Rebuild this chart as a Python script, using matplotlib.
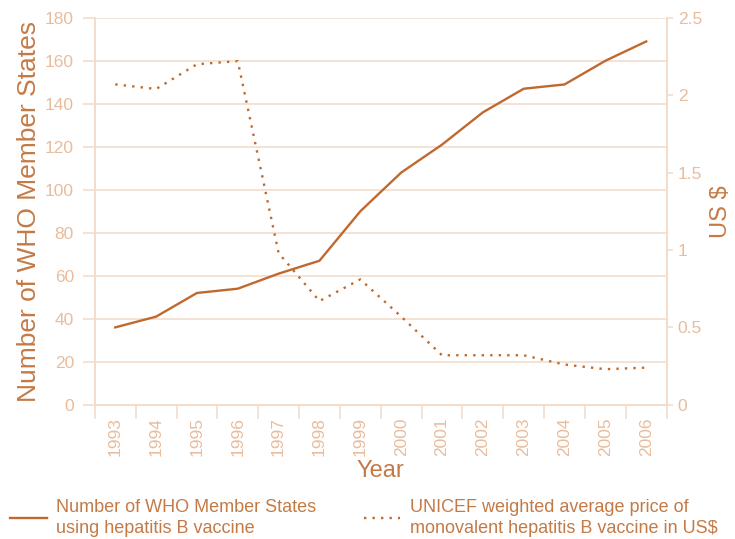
import numpy as np
import matplotlib.pyplot as plt
from matplotlib.lines import Line2D

plt.rcParams['font.family'] = ['Liberation Sans', 'DejaVu Sans']

years = ['1993', '1994', '1995', '1996', '1997', '1998', '1999',
         '2000', '2001', '2002', '2003', '2004', '2005', '2006']
member_states = [36, 41, 52, 54, 61, 67, 90, 108, 121, 136, 147, 149, 160, 169]
price_usd = [2.07, 2.04, 2.20, 2.22, 0.98, 0.67, 0.81, 0.57, 0.32, 0.32, 0.32, 0.26, 0.23, 0.24]

line_col = '#C0692F'
label_col = '#C47A45'
tick_col = '#E9BC9C'
grid_col = '#F2DDCC'

fig = plt.figure(figsize=(7.35, 5.39), dpi=100)
ax = fig.add_axes([0.129, 0.249, 0.778, 0.718])
ax2 = ax.twinx()

x = np.arange(len(years))
ax.plot(x, member_states, color=line_col, lw=1.7, zorder=3)
ax2.plot(x, price_usd, color=line_col, lw=1.7, ls=(0, (1, 2.6)))

ax.set_xlim(-0.5, len(years) - 0.5)
ax.set_ylim(0, 180)
ax.set_yticks(np.arange(0, 181, 20))
ax2.set_ylim(0, 2.5)
ax2.set_yticks([0, 0.5, 1, 1.5, 2, 2.5])
ax2.set_yticklabels(['0', '0.5', '1', '1.5', '2', '2.5'])

ax.set_xticks(x)
ax.set_xticklabels(years, rotation=90)
ax.set_xticks(np.arange(-0.5, len(years), 1), minor=True)
ax.tick_params(axis='x', which='major', length=0, pad=9, labelsize=12.5, labelcolor=tick_col)
ax.tick_params(axis='x', which='minor', length=10, width=1.2, color=grid_col)
ax.tick_params(axis='y', length=9, width=1.2, color=grid_col, labelsize=12.5, labelcolor=tick_col, pad=6)
ax2.tick_params(axis='y', length=4, width=1.2, color=grid_col, labelsize=12.5, labelcolor=tick_col, pad=4)

ax.yaxis.grid(True, color=grid_col, lw=1.2)
ax.set_axisbelow(True)

for a in (ax, ax2):
    a.spines['top'].set_visible(False)
    for s in ('left', 'right', 'bottom'):
        a.spines[s].set_color(grid_col)
        a.spines[s].set_linewidth(1.2)

ax.set_ylabel('Number of WHO Member States', fontsize=19, color=label_col, labelpad=3)
ax2.set_ylabel('US $', fontsize=17, color=label_col, labelpad=6)
ax.set_xlabel('Year', fontsize=17, color=label_col, labelpad=3)

handles = [Line2D([], [], color=line_col, lw=1.7),
           Line2D([], [], color=line_col, lw=1.7, ls=(0, (1, 2.6)))]
labels = ['Number of WHO Member States\nusing hepatitis B vaccine',
          'UNICEF weighted average price of\nmonovalent hepatitis B vaccine in US$']
leg = fig.legend(handles, labels, loc='lower left', bbox_to_anchor=(-0.003, -0.02), ncol=2,
                 frameon=False, fontsize=13, labelcolor=label_col, handlelength=2.0,
                 handletextpad=0.55, columnspacing=2.6, borderpad=0.2)
for t in leg.get_texts():
    t.set_linespacing(1.35)

fig.savefig('out.png', dpi=100)
